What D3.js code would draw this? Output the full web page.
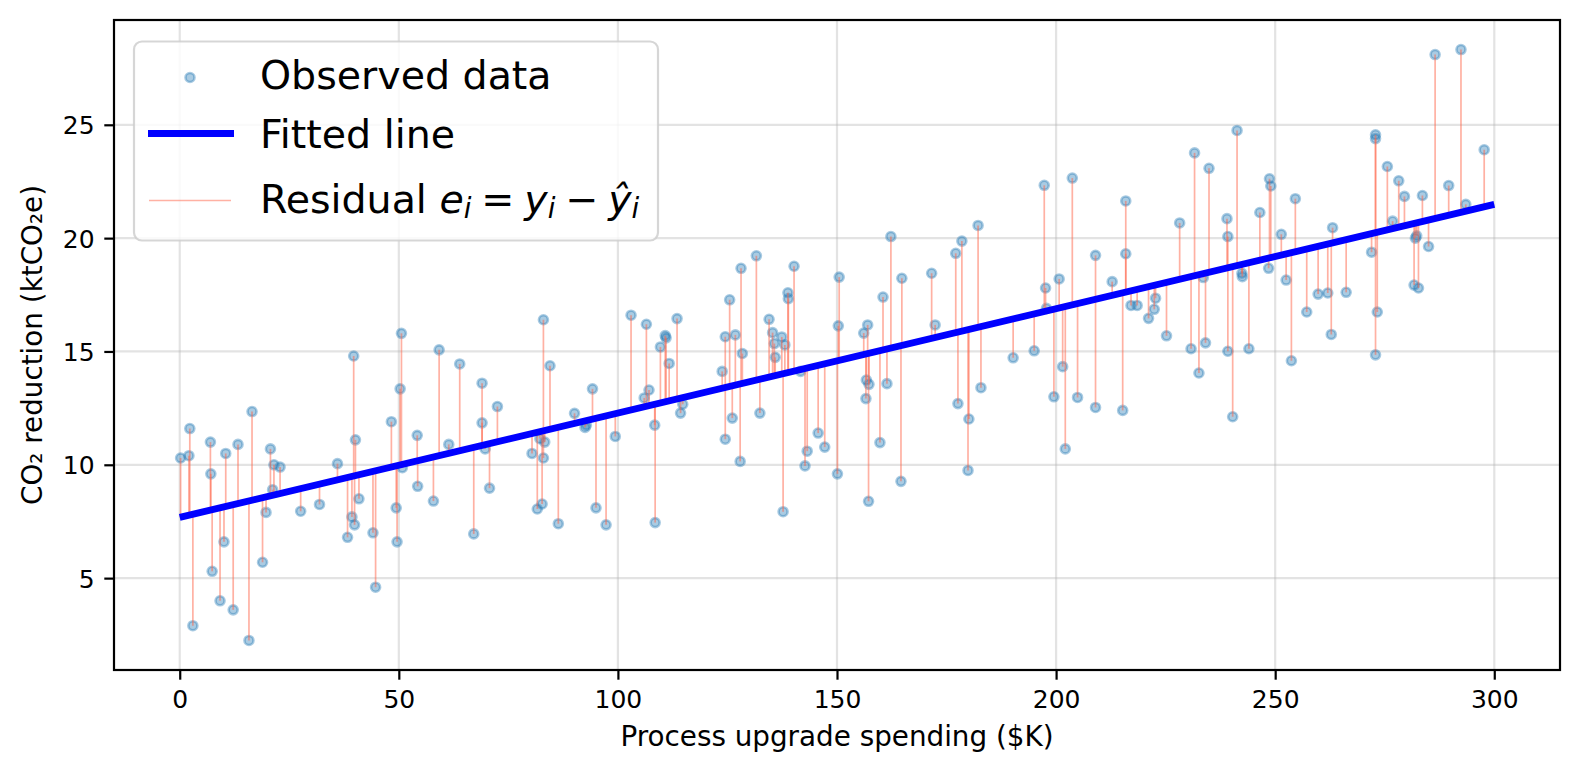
<!DOCTYPE html>
<html>
<head>
<meta charset="utf-8">
<script src="https://cdn.jsdelivr.net/npm/d3@7"></script>
<style>
  html, body { margin: 0; padding: 0; background: #fff; }
  svg { display: block; font-family: 'DejaVu Sans', sans-serif; }
</style>
</head>
<body>
<div id="chart"></div>
<script>
// observed points
const spendingK = [
  0.2, 2.1, 2.3, 3.0, 7.0, 7.1, 7.4, 9.2, 10.1, 10.5,
  12.2, 13.3, 15.8, 16.5, 18.9, 19.7, 20.7, 21.2, 21.5, 22.9,
  27.6, 31.9, 36.0, 38.3, 39.3, 39.7, 39.9, 40.1, 40.9, 44.1,
  44.7, 48.3, 49.4, 49.6, 50.3, 50.6, 50.8, 54.2, 54.3, 57.9,
  59.2, 61.4, 63.9, 67.1, 69.0, 69.0, 69.7, 70.7, 72.5, 80.4,
  81.6, 82.2, 82.7, 83.0, 83.0, 83.3, 84.5, 86.4, 90.1, 92.5,
  92.8, 94.2, 95.0, 97.3, 99.4, 103.0, 106.0, 106.5, 107.1, 108.4,
  108.5, 109.7, 110.8, 111.0, 111.7, 113.5, 114.3, 114.8, 123.8, 124.5,
  124.5, 125.5, 126.1, 126.8, 127.9, 128.1, 128.4, 131.6, 132.4, 134.5,
  135.3, 135.7, 135.9, 137.4, 137.7, 138.1, 138.8, 138.9, 140.2, 141.7,
  142.7, 143.2, 145.7, 147.2, 150.1, 150.3, 150.5, 156.1, 156.6, 156.7,
  157.0, 157.2, 157.3, 159.8, 160.5, 161.4, 162.3, 164.6, 164.8, 171.6,
  172.4, 177.1, 177.6, 178.5, 179.9, 180.1, 182.2, 182.85, 190.2, 195.0,
  197.3, 197.6, 197.8, 199.5, 200.7, 201.5, 202.1, 203.7, 204.9, 209.0,
  209.0, 212.8, 215.2, 215.9, 215.9, 217.1, 218.5, 221.1, 222.4, 222.7,
  225.2, 228.2, 230.8, 231.6, 232.6, 233.6, 234.1, 234.9, 239.0, 239.2,
  239.2, 240.3, 241.3, 242.4, 242.5, 244.0, 246.5, 248.5, 248.7, 249.0,
  251.4, 252.5, 253.7, 254.6, 257.2, 259.8, 262.0, 262.8, 263.1, 266.2,
  272.0, 272.9, 272.9, 272.9, 273.3, 275.6, 276.8, 278.2, 279.5, 281.7,
  282.0, 282.3, 282.7, 283.6, 285.0, 286.5, 289.6, 292.4, 293.5, 297.7
];
const co2Reduction = [
  10.3, 10.4, 11.6, 2.9, 11.0, 9.6, 5.3, 4.0, 6.6, 10.5,
  3.6, 10.9, 2.25, 12.35, 5.7, 7.9, 10.7, 8.9, 10.0, 9.9,
  7.95, 8.25, 10.05, 6.8, 7.7, 14.8, 7.35, 11.1, 8.5, 7.0,
  4.6, 11.9, 8.1, 6.6, 13.35, 15.8, 9.87, 11.3, 9.05, 8.4,
  15.07, 10.9, 14.45, 6.95, 13.6, 11.85, 10.7, 8.97, 12.57, 10.5,
  8.05, 11.15, 8.27, 16.4, 10.3, 11.0, 14.37, 7.4, 12.27, 11.65,
  11.75, 13.35, 8.1, 7.35, 11.25, 16.6, 12.95, 16.2, 13.3, 11.75,
  7.45, 15.2, 15.7, 15.6, 14.47, 16.45, 12.28, 12.67, 14.12, 15.65,
  11.13, 17.28, 12.06, 15.73, 10.15, 18.67, 14.91, 19.22, 12.28, 16.42,
  15.83, 15.35, 14.74, 15.64, 7.93, 15.29, 17.59, 17.33, 18.76, 14.12,
  9.95, 10.6, 11.4, 10.78, 9.6, 16.13, 18.28, 15.81, 12.92, 13.74,
  16.17, 8.39, 13.55, 10.98, 17.4, 13.58, 20.07, 9.27, 18.23, 18.45,
  16.17, 19.33, 12.7, 19.87, 9.75, 12.02, 20.56, 13.4, 14.72, 15.03,
  22.33, 17.8, 16.9, 13.0, 18.2, 14.33, 10.7, 22.65, 12.97, 19.24,
  12.53, 18.08, 12.4, 21.64, 19.31, 17.03, 17.03, 16.46, 16.86, 17.35,
  15.69, 20.67, 15.12, 23.76, 14.05, 18.26, 15.38, 23.08, 20.86, 20.07,
  15.01, 12.12, 24.75, 18.45, 18.3, 15.12, 21.13, 18.67, 22.62, 22.3,
  20.17, 18.15, 14.59, 21.74, 16.74, 17.53, 17.58, 15.75, 20.46, 17.61,
  19.38, 24.56, 24.39, 14.85, 16.74, 23.16, 20.75, 22.53, 21.84, 17.93,
  20.0, 20.1, 17.8, 21.88, 19.63, 28.1, 22.32, 28.32, 21.49, 23.9
];

// fitted line as drawn in the reference
const fitRange = [0, 300];
const fitIntercept = 7.68;
const fitSlope = 0.04603;

const xTicks = [0, 50, 100, 150, 200, 250, 300];
const yTicks = [5, 10, 15, 20, 25];

const W = 1579, H = 780;
const margin = { top: 20, right: 19, bottom: 110, left: 114 };
const iW = W - margin.left - margin.right;
const iH = H - margin.top - margin.bottom;

const C = {
  point: '#1f77b4', fit: '#0000ff', resid: '#ff6347',
  grid: '#b0b0b0', frame: '#cccccc'
};
const TICK_FS = 25, LABEL_FS = 27.8, LEG_FS = 39.5;

const points = spendingK.map((x, i) => ({ x, y: co2Reduction[i] }));
const yHat = x => fitIntercept + fitSlope * x;

// matplotlib style 5% padding
const pad = ([a, b]) => [a - (b - a) * 0.05, b + (b - a) * 0.05];

const x = d3.scaleLinear().domain(pad(fitRange)).range([0, iW]);
const y = d3.scaleLinear().domain(pad(d3.extent(co2Reduction))).range([iH, 0]);

const svg = d3.select('#chart').append('svg')
  .attr('width', W).attr('height', H)
  .style('background', '#fff');

const g = svg.append('g').attr('transform', `translate(${margin.left},${margin.top})`);

// grid
g.append('g').selectAll('line.gx').data(xTicks).enter().append('line')
  .attr('x1', d => x(d)).attr('x2', d => x(d)).attr('y1', 0).attr('y2', iH)
  .attr('stroke', C.grid).attr('stroke-opacity', 0.35).attr('stroke-width', 2.2);
g.append('g').selectAll('line.gy').data(yTicks).enter().append('line')
  .attr('x1', 0).attr('x2', iW).attr('y1', d => y(d)).attr('y2', d => y(d))
  .attr('stroke', C.grid).attr('stroke-opacity', 0.35).attr('stroke-width', 2.2);

// observed points
g.append('g').selectAll('circle').data(points).enter().append('circle')
  .attr('cx', d => x(d.x)).attr('cy', d => y(d.y)).attr('r', 4.5)
  .attr('fill', C.point).attr('fill-opacity', 0.38)
  .attr('stroke', C.point).attr('stroke-opacity', 0.38).attr('stroke-width', 2.6);

// residuals
g.append('g').selectAll('line').data(points).enter().append('line')
  .attr('x1', d => x(d.x)).attr('x2', d => x(d.x))
  .attr('y1', d => y(d.y)).attr('y2', d => y(yHat(d.x)))
  .attr('stroke', C.resid).attr('stroke-opacity', 0.5).attr('stroke-width', 1.7);

// fitted line
g.append('path')
  .datum(fitRange)
  .attr('d', d3.line().x(d => x(d)).y(d => y(yHat(d))))
  .attr('fill', 'none').attr('stroke', C.fit).attr('stroke-width', 6.9);

// axes
const xAxis = g.append('g').attr('transform', `translate(0,${iH})`)
  .call(d3.axisBottom(x).tickValues(xTicks).tickSizeInner(9.7).tickSizeOuter(0).tickPadding(9.7));
const yAxis = g.append('g')
  .call(d3.axisLeft(y).tickValues(yTicks).tickSizeInner(9.7).tickSizeOuter(0).tickPadding(9.7));
[xAxis, yAxis].forEach(a => {
  a.select('.domain').remove();
  a.selectAll('line').attr('stroke', '#000').attr('stroke-width', 2.2);
  a.selectAll('text').attr('font-size', TICK_FS).attr('fill', '#000')
    .attr('font-family', 'DejaVu Sans');
});
xAxis.selectAll('text').attr('dy', '0.76em');
yAxis.selectAll('text').attr('dy', '0.36em');

// spines
g.append('rect').attr('width', iW).attr('height', iH)
  .attr('fill', 'none').attr('stroke', '#000').attr('stroke-width', 2.2);

// axis labels
svg.append('text')
  .attr('x', margin.left + iW / 2).attr('y', 746)
  .attr('text-anchor', 'middle').attr('font-size', LABEL_FS)
  .text('Process upgrade spending ($K)');
svg.append('text')
  .attr('transform', `translate(42,${margin.top + iH / 2}) rotate(-90)`)
  .attr('text-anchor', 'middle').attr('font-size', LABEL_FS)
  .text('CO₂ reduction (ktCO₂e)');

// legend
const leg = svg.append('g');
leg.append('rect')
  .attr('x', 134).attr('y', 41.5).attr('width', 524).attr('height', 199)
  .attr('rx', 8).attr('fill', '#fff').attr('fill-opacity', 0.8)
  .attr('stroke', C.frame).attr('stroke-opacity', 0.8).attr('stroke-width', 2.2);

leg.append('circle').attr('cx', 190).attr('cy', 77.5).attr('r', 4.5)
  .attr('fill', C.point).attr('fill-opacity', 0.38)
  .attr('stroke', C.point).attr('stroke-opacity', 0.38).attr('stroke-width', 2.6);
leg.append('line').attr('x1', 148).attr('x2', 234).attr('y1', 133.5).attr('y2', 133.5)
  .attr('stroke', C.fit).attr('stroke-width', 6.9);
leg.append('line').attr('x1', 149).attr('x2', 231).attr('y1', 200.5).attr('y2', 200.5)
  .attr('stroke', C.resid).attr('stroke-opacity', 0.5).attr('stroke-width', 1.7);

leg.append('text').attr('x', 260).attr('y', 89).attr('font-size', LEG_FS).text('Observed data');
leg.append('text').attr('x', 260).attr('y', 148).attr('font-size', LEG_FS).text('Fitted line');

// "Residual e_i = y_i − ŷ_i" laid out roughly like mathtext
const opSpace = LEG_FS * 0.25;
const rt = leg.append('text').attr('x', 260).attr('y', 213).attr('font-size', LEG_FS);
rt.append('tspan').text('Residual ');
const mathParts = [
  { t: 'e', it: true },
  { t: 'i', it: true, sub: true },
  { t: '=', dx: opSpace },
  { t: 'y', it: true, dx: opSpace },
  { t: 'i', it: true, sub: true },
  { t: '−', dx: opSpace },
  { t: 'ŷ', it: true, dx: opSpace },
  { t: 'i', it: true, sub: true }
];
let down = false;
mathParts.forEach(p => {
  const ts = rt.append('tspan').text(p.t);
  if (p.it) ts.attr('font-style', 'italic');
  let dy = 0;
  if (p.sub && !down) { dy = 5; down = true; }
  if (!p.sub && down) { dy = -5; down = false; }
  if (dy) ts.attr('dy', dy);
  if (p.dx) ts.attr('dx', p.dx);
  if (p.sub) ts.attr('font-size', LEG_FS * 0.7);
});
</script>
</body>
</html>
